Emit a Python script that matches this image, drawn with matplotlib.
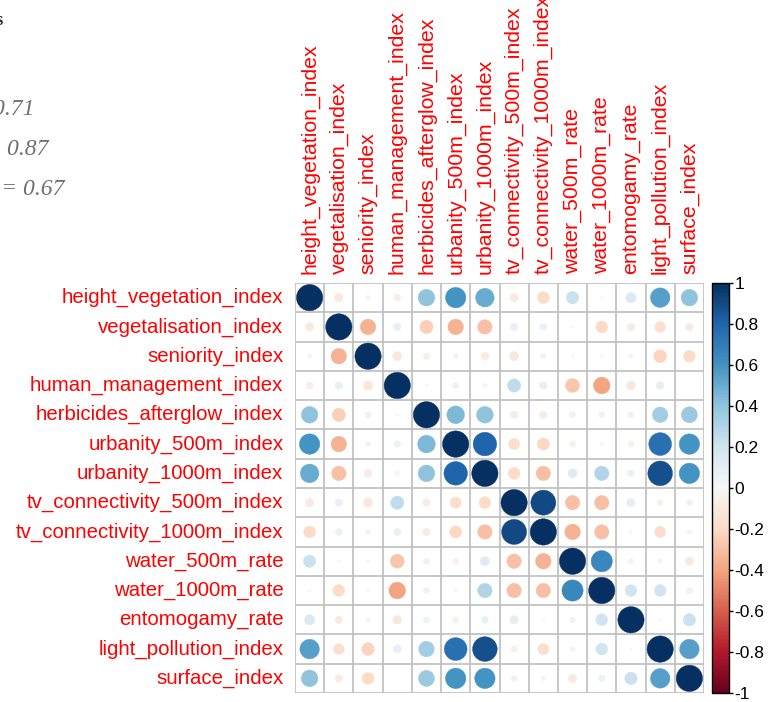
import matplotlib
matplotlib.use("Agg")
import matplotlib.pyplot as plt
import numpy as np
from matplotlib.patches import Circle
from matplotlib.cm import ScalarMappable
from matplotlib.colors import Normalize

variables = [
    "height_vegetation_index",
    "vegetalisation_index",
    "seniority_index",
    "human_management_index",
    "herbicides_afterglow_index",
    "urbanity_500m_index",
    "urbanity_1000m_index",
    "tv_connectivity_500m_index",
    "tv_connectivity_1000m_index",
    "water_500m_rate",
    "water_1000m_rate",
    "entomogamy_rate",
    "light_pollution_index",
    "surface_index",
]

# upper triangle of the correlation matrix, row i holds columns i+1 .. n-1
upper = [
    [-0.10, -0.03, -0.07, 0.40, 0.60, 0.50, -0.10, -0.20, 0.22, 0.01, 0.15, 0.55, 0.40],
    [-0.35, 0.08, -0.25, -0.35, -0.30, 0.08, 0.07, 0.01, -0.20, -0.08, -0.17, -0.08],
    [-0.12, -0.06, -0.04, -0.09, -0.12, 0.04, 0.01, 0.01, 0.03, -0.23, -0.20],
    [0.01, 0.06, -0.03, 0.25, 0.08, -0.28, -0.40, -0.11, 0.09, 0.00],
    [0.45, 0.40, -0.08, -0.08, 0.05, 0.05, 0.05, 0.35, 0.37],
    [0.80, -0.18, -0.21, -0.05, 0.02, -0.05, 0.75, 0.60],
    [-0.20, -0.30, 0.12, 0.30, 0.07, 0.88, 0.60],
    [0.90, -0.30, -0.30, 0.10, -0.05, 0.05],
    [-0.35, -0.30, 0.01, -0.18, -0.03],
    [0.65, 0.04, 0.03, -0.10],
    [0.20, 0.20, 0.06],
    [0.01, 0.22],
    [0.55],
]

fit_labels = ["r = 0.71", "r = 0.87", "r = 0.67"]
fit_label_right = [35, 49, 65]  # px where each line ends

n = len(variables)
corr = np.eye(n)
for i, row in enumerate(upper):
    for k, v in enumerate(row):
        j = i + 1 + k
        corr[i, j] = v
        corr[j, i] = v

W, H = 771, 702
fig = plt.figure(figsize=(W / 100, H / 100), dpi=100)

x0, x1, y0, y1 = 295, 704, 283, 693
ax = fig.add_axes([x0 / W, 1 - y1 / H, (x1 - x0) / W, (y1 - y0) / H])
cmap = plt.get_cmap("RdBu")
norm = Normalize(-1, 1)

for i in range(n):
    for j in range(n):
        r = corr[i, j]
        col = cmap(norm(r))
        ax.add_patch(Circle((j + 0.5, i + 0.5), 0.45 * np.sqrt(abs(r)),
                            facecolor=col, edgecolor=col, lw=0.3))

for k in range(n + 1):
    ax.axhline(k, color="#BEBEBE", lw=1.2, zorder=0)
    ax.axvline(k, color="#BEBEBE", lw=1.2, zorder=0)

ax.set_xlim(0, n)
ax.set_ylim(n, 0)
ax.axis("off")

label_font = dict(family="Liberation Sans", color="#FF0000")
for i, name in enumerate(variables):
    ax.text(-0.4, i + 0.5, name, ha="right", va="center", size=14.7,
            **label_font)
    ax.text(i + 0.5, -0.3, name, ha="center", va="bottom", rotation=90,
            size=15.3, **label_font)

# colour legend
cax = fig.add_axes([712 / W, 1 - y1 / H, 17 / W, (y1 - y0) / H])
cb = fig.colorbar(ScalarMappable(norm=norm, cmap=cmap), cax=cax)
ticks = np.round(np.arange(-1, 1.01, 0.2), 1) + 0.0
cb.set_ticks(ticks)
cb.set_ticklabels(["0" if abs(t) < 1e-9 else f"{t:g}" for t in ticks])
cb.outline.set_linewidth(1.0)
cax.tick_params(length=3, width=1, labelsize=12.5, pad=1)
for t in cax.get_yticklabels():
    t.set_family("Liberation Sans")

# annotation text running off the left edge
fig.text(4 / W, 1 - 25 / H, "Variables", ha="right", va="baseline",
         family="Liberation Serif", weight="bold", size=14, color="#333333")
for lab, xr, yb in zip(fit_labels, fit_label_right, [115, 155, 195]):
    fig.text(xr / W, 1 - yb / H, lab, ha="right", va="baseline",
             family="Liberation Serif", style="italic", size=17, color="#707070")

fig.savefig("out.png", dpi=100)
